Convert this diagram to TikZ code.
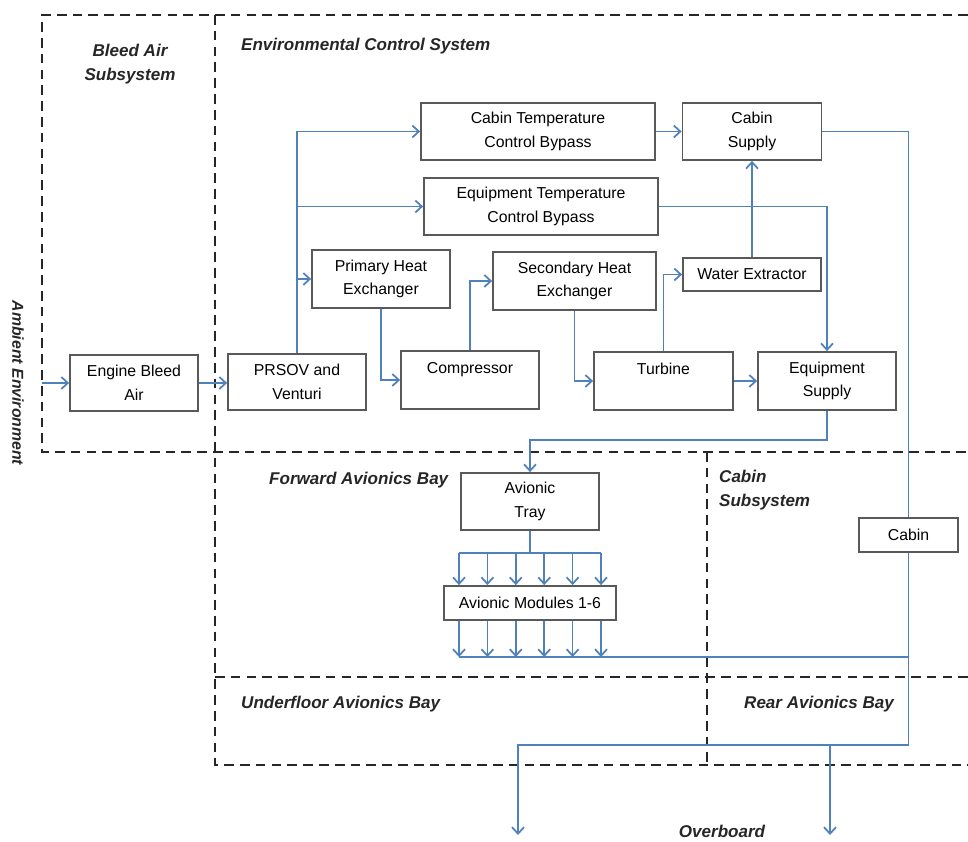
\documentclass[tikz,border=0pt]{standalone}
\usepackage{fontspec}
\setmainfont{Liberation Sans}
\usetikzlibrary{positioning, arrows.meta}
\usetikzlibrary{calc}
\definecolor{flowblue}{RGB}{79,129,189}

\begin{document}
\begin{tikzpicture}[
      box/.style={draw=black!65, line width=1pt, fill=white, align=center, minimum width=2.76cm, minimum height=1.14cm, inner sep=1pt, font=\fontsize{9}{13.5}\selectfont},
      flow/.style={draw=flowblue, line width=1pt, -{Straight Barb[length=1.3mm, width=2.4mm]}},
      pipe/.style={draw=flowblue, line width=1pt},
      zone/.style={draw=black!85, line width=1.6pt, dash pattern=on 5.5pt off 3.5pt},
      title/.style={font=\fontsize{9.7}{14}\selectfont\bfseries\itshape, text=black!85, align=left}
    ]
      \useasboundingbox (0,0) rectangle (19.36,16.84);

      \draw[zone] (19.36,16.54) -- (0.84,16.54) -- (0.84,7.8) -- (19.36,7.8);
      \draw[zone] (4.3,16.54) -- (4.3,1.54) -- (19.36,1.54);
      \draw[zone] (4.3,3.3) -- (19.36,3.3);
      \draw[zone] (14.14,7.8) -- (14.14,1.54);

      \node[title, align=center] (bleedlbl) at (2.6,15.56) {Bleed Air\\Subsystem};
      \node[title, anchor=west] (ecslbl) at (4.7,15.92) {Environmental Control System};
      \node[title, rotate=-90, font=\fontsize{9}{12}\selectfont\bfseries\itshape] (ambient) at (0.36,9.18) {Ambient Environment};
      \node[title, anchor=west] (fwdlbl) at (5.26,7.24) {Forward Avionics Bay};
      \node[title, anchor=west] (cablbl) at (14.26,7.04) {Cabin\\Subsystem};
      \node[title, anchor=west] (underlbl) at (4.7,2.76) {Underfloor Avionics Bay};
      \node[title, anchor=west] (rearlbl) at (14.76,2.76) {Rear Avionics Bay};
      \node[title] (overlbl) at (14.44,0.22) {Overboard};

      \node[box, minimum width=2.56cm, minimum height=1.12cm] (bleed) at (2.68,9.18) {Engine Bleed\\Air};
      \node[box, minimum height=1.12cm] (prsov) at (5.94,9.2) {PRSOV and\\Venturi};
      \node[box, minimum width=4.68cm] (cabbypass) at (10.76,14.21) {Cabin Temperature\\Control Bypass};
      \node[box, minimum width=2.78cm] (cabsupply) at (15.04,14.21) {Cabin\\Supply};
      \node[box, minimum width=4.68cm] (eqbypass) at (10.82,12.71) {Equipment Temperature\\Control Bypass};
      \node[box, minimum height=1.16cm] (primary) at (7.62,11.26) {Primary Heat\\Exchanger};
      \node[box, minimum width=3.26cm, minimum height=1.16cm] (secondary) at (11.49,11.22) {Secondary Heat\\Exchanger};
      \node[box, minimum height=0.66cm] (waterext) at (15.04,11.35) {Water Extractor};
      \node[box, minimum height=1.16cm] (compressor) at (9.4,9.24) {Compressor\\~};
      \node[box, minimum width=2.78cm, minimum height=1.16cm] (turbine) at (13.27,9.22) {Turbine\\~};
      \node[box, minimum height=1.16cm] (eqsupply) at (16.54,9.22) {Equipment\\Supply};
      \node[box] (tray) at (10.6,6.81) {Avionic\\Tray};
      \node[box, minimum width=3.44cm, minimum height=0.68cm] (modules) at (10.6,4.78) {Avionic Modules 1-6};
      \node[box, minimum width=1.98cm, minimum height=0.68cm] (cabin) at (18.17,6.14) {Cabin};

      \coordinate (inlet) at (0.84,9.18);
      \coordinate (split) at (10.6,8.04);
      \coordinate (fan) at (10.6,5.78);
      \coordinate (drain) at (10.6,3.7);
      \coordinate (outlet) at (10.36,1.94);
      \coordinate (over1) at (10.36,0.14);
      \coordinate (over2) at (16.6,0.14);

      \draw[flow] (inlet) -- (bleed.west);
      \draw[flow] (bleed.east) -- (bleed.east -| prsov.west);
      \draw[flow] (prsov.north) |- (cabbypass.west);
      \draw[flow] (prsov.north |- eqbypass.west) -- (eqbypass.west);
      \draw[flow] (prsov.north |- primary.west) -- (primary.west);
      \draw[flow] (primary.south) |- (compressor.west);
      \draw[flow] (compressor.north) |- (secondary.west);
      \draw[flow] (secondary.south) |- (turbine.west);
      \draw[flow] (turbine.north) |- (waterext.west);
      \draw[flow] (waterext.north) -- (cabsupply.south);
      \draw[flow] (cabbypass.east) -- (cabsupply.west);
      \draw[flow] (eqbypass.east) -| (eqsupply.north);
      \draw[flow] (turbine.east) -- (eqsupply.west);
      \draw[pipe] (cabsupply.east) -| (cabin.north);
      \draw[flow] (eqsupply.south) |- (split) -- (tray.north);

      \draw[pipe] (tray.south) -- (fan);
      \draw[pipe] ([xshift=-1.42cm]fan) -- ([xshift=1.42cm]fan);
      \foreach \dx in {-1.42,-0.852,-0.284,0.284,0.852,1.42}
        \draw[flow] ([xshift=\dx cm]fan) -- ([xshift=\dx cm]modules.north);
      \foreach \dx in {-1.42,-0.852,-0.284,0.284,0.852,1.42}
        \draw[flow] ([xshift=\dx cm]modules.south) -- ([xshift=\dx cm]drain);
      \draw[pipe] ([xshift=-1.42cm]drain) -- (drain -| cabin.south);

      \draw[flow] (cabin.south) |- (outlet) -- (over1);
      \draw[flow] (over2 |- outlet) -- (over2);
    \end{tikzpicture}
\end{document}
